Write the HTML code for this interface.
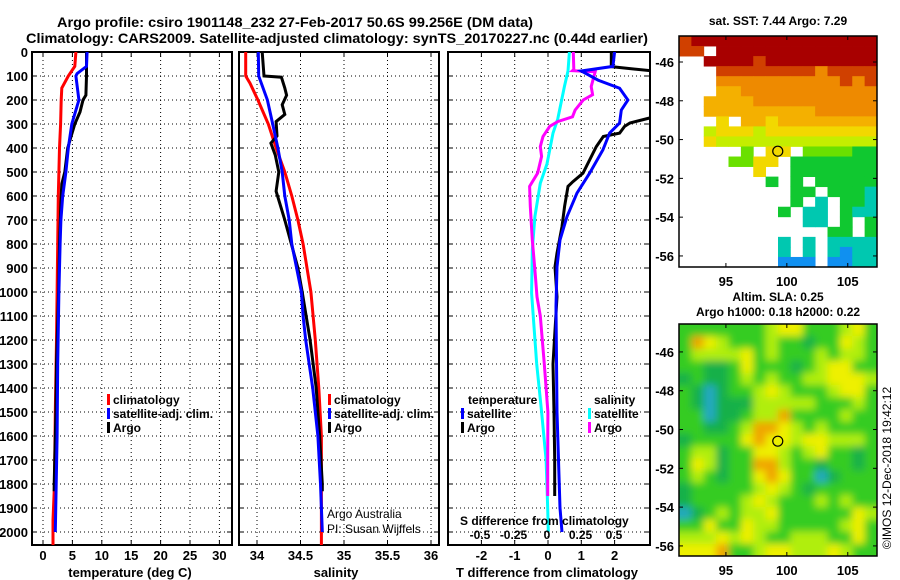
<!DOCTYPE html>
<html><head><meta charset="utf-8"><style>
html,body{margin:0;padding:0;background:#fff;}
svg{display:block;font-family:"Liberation Sans",sans-serif;}
.b{font-weight:bold;}
</style></head><body>
<svg id="chart" width="900" height="580" viewBox="0 0 900 580" xmlns="http://www.w3.org/2000/svg">
<defs>
<clipPath id="c1"><rect x="32" y="52" width="200" height="493"/></clipPath>
<clipPath id="c2"><rect x="239" y="52" width="200" height="493"/></clipPath>
<clipPath id="c3"><rect x="448" y="52" width="202" height="493"/></clipPath>
<clipPath id="cm2"><rect x="679" y="324" width="198" height="232"/></clipPath>
<filter id="blur" x="-5%" y="-5%" width="110%" height="110%"><feGaussianBlur stdDeviation="4"/></filter>
</defs>
<text class="b" x="57" y="27" font-size="14" textLength="476" lengthAdjust="spacingAndGlyphs">Argo profile: csiro 1901148_232 27-Feb-2017 50.6S 99.256E (DM data)</text>
<text class="b" x="26" y="43" font-size="14" textLength="622" lengthAdjust="spacingAndGlyphs">Climatology: CARS2009. Satellite-adjusted climatology: synTS_20170227.nc (0.44d earlier)</text>
<g id="g"></g>
</svg>
<script>
// ---- profile data (depth in m) ----
const tempClimDepth=[0,60,100,150,200,300,400,600,800,1000,1200,1500,1800,1950,2060];
const tempClim=[5.6,5.4,4.3,3.2,3.1,3.0,2.8,2.6,2.5,2.4,2.3,2.1,1.95,1.7,1.7];
const tempSatDepth=[0,60,90,100,200,300,400,500,600,700,800,1000,1300,1600,2000];
const tempSat=[7.5,7.4,5.8,5.6,6.1,4.9,4.3,3.9,3.35,3.05,2.9,2.7,2.5,2.4,2.1];
const tempArgoDepth=[0,100,180,200,250,300,350,400,500,550,600,800,1000,1300,1500,1800,1830];
const tempArgo=[7.4,7.4,7.3,6.8,6.3,5.4,4.8,4.2,3.7,3.2,3.1,2.8,2.65,2.3,2.2,1.9,1.9];

const salClimDepth=[0,100,130,200,300,400,500,600,700,800,1000,1200,1400,1600,2060];
const salClim=[33.87,33.87,33.92,34.01,34.13,34.22,34.32,34.40,34.47,34.53,34.62,34.67,34.71,34.74,34.74];
const salSatDepth=[0,100,200,300,400,500,600,700,800,1000,1100,1200,1400,1600,1800,2000];
const salSat=[34.015,34.02,34.12,34.18,34.24,34.29,34.32,34.37,34.40,34.51,34.53,34.56,34.64,34.70,34.73,34.75];
const salArgoDepth=[0,100,105,150,180,220,260,290,350,380,430,500,580,700,900,1000,1200,1400,1600,1800,1830];
const salArgo=[34.06,34.08,34.28,34.32,34.34,34.29,34.32,34.22,34.23,34.16,34.21,34.25,34.22,34.32,34.47,34.52,34.61,34.68,34.72,34.75,34.75];

const dTSatDepth=[0,60,79,117,151,200,242,296,338,408,505,588,686,783,895,1060,1500,1900,2000];
const dTSat=[2.0,1.95,1.0,1.5,2.15,2.4,2.2,2.15,1.85,1.65,1.25,0.87,0.57,0.36,0.27,0.24,0.27,0.36,0.42];
const dTArgoDepth=[0,61,78,150,250,275,296,310,338,352,394,505,540,560,643,727,838,895,1020,1300,1500,1700,1850];
const dTArgo=[1.9,1.9,3.07,3.6,3.3,3.05,2.46,2.3,2.15,1.66,1.45,1.05,0.75,0.6,0.5,0.42,0.27,0.21,0.27,0.15,0.18,0.2,0.2];
const dSSatDepth=[0,79,144,280,338,466,547,686,825,1005,1300,1500,1700,1900,2000];
const dSSat=[0.167,0.157,0.13,0.08,0.045,0,-0.05,-0.09,-0.11,-0.115,-0.077,-0.04,-0.007,0.005,0.01];
const dSArgoDepth=[0,73,78,82,144,178,200,242,270,290,310,352,394,435,505,560,643,783,908,1020,1100,1300,1500,1700,1850];
const dSArgo=[0.196,0.2,0.19,0.36,0.33,0.34,0.27,0.21,0.19,0.08,0.02,-0.03,-0.05,-0.04,-0.07,-0.13,-0.125,-0.11,-0.09,-0.075,-0.05,-0.02,0.007,0.005,0.005];

// ---- ticks ----
const depthTicks=[0,100,200,300,400,500,600,700,800,900,1000,1100,1200,1300,1400,1500,1600,1700,1800,1900,2000];
const tempTicks=[0,5,10,15,20,25,30];
const salTicks=[34,34.5,35,35.5,36];
const salTickLabels=["34","34.5","35","35.5","36"];
const dTTicks=[-2,-1,0,1,2];
const dSTicks=[-0.5,-0.25,0,0.25,0.5];
const dSTickLabels=["-0.5","-0.25","0","0.25","0.5"];
const latTicks=[-46,-48,-50,-52,-54,-56];
const lonTicks=[95,100,105];
const argoLon=99.256, argoLat=-50.6;

// ---- map grids (level codes, '.' = no data) ----
const sstRows=[
"8999999999999999","88.9999999999999","..99998999999999","...8888888878888",
"...7777777777878","...6677777777777","..66667777777777","..66666666677777",
"...5.66566666666","..45554555555555","..54444444444444",".....3.55.333322",
"....3355.2222222","......5..2222222",".......2.2.22222",".........22.2221",
".........2.1.221","........2.11.211","..........11.2.2","............22.2",
"........1.1.1111","........1.1.1011","........000.0011"];
const slaRows=[
"2222222344222342","2543222322122432","2333342322232332","2211242221234422",
"1211232322334443","2101223432223442","2101113333322232","2201123352222322",
"2211235543232222","1222245443443332","2331224432342212","2431225532212212",
"2321224542201222","1222223432122222","1222234322232322","0123233422222243",
"2242243322222342","3334343223332242","4445223443334322"];
const sstColors={"9":"#a80000","8":"#d04000","7":"#ee8a00","6":"#f4b000","5":"#f2d800","4":"#c4ee00","3":"#6ae000","2":"#10c830","1":"#00c8b0","0":"#1090f0"};
const slaColors={"0":"#20a8c0","1":"#18b048","2":"#34cc24","3":"#b0ee10","4":"#eef000","5":"#f0a400"};

// ---- scales ----
const yD=d=>52+d*0.24;
const xT=t=>43+t*5.88;
const xS=s=>257+(s-34)*87;
const xdT=t=>548+t*33.3;
const xdS=s=>547+s*134;
const ns="http://www.w3.org/2000/svg";
const G=document.getElementById('g');
function mk(tag,attrs,parent){const e=document.createElementNS(ns,tag);for(const k in attrs)e.setAttribute(k,attrs[k]);(parent||G).appendChild(e);return e;}
function txt(s,x,y,size,anchor,bold,parent){const e=mk('text',{x:x,y:y,'font-size':size,'text-anchor':anchor||'start'},parent);if(bold)e.setAttribute('font-weight','bold');e.textContent=s;return e;}

function panel(name,x0,w,clip,xTickVals,xf,labels,xtitle,xtitleX,showY){
  const g=mk('g',{});
  
  
  const grid=mk('g',{stroke:'#000','stroke-width':1,'stroke-dasharray':'1,3'},g);
  depthTicks.forEach(d=>{mk('line',{x1:x0,x2:x0+w,y1:yD(d),y2:yD(d)},grid);});
  xTickVals.forEach(v=>{mk('line',{x1:xf(v),x2:xf(v),y1:52,y2:545},grid);});
  const ax=mk('g',{stroke:'#000','stroke-width':1},g);
  depthTicks.forEach(d=>{mk('line',{x1:x0,x2:x0+5,y1:yD(d),y2:yD(d)},ax);mk('line',{x1:x0+w-5,x2:x0+w,y1:yD(d),y2:yD(d)},ax);});
  xTickVals.forEach(v=>{mk('line',{x1:xf(v),x2:xf(v),y1:545,y2:540},ax);mk('line',{x1:xf(v),x2:xf(v),y1:52,y2:57},ax);});
  const fr=mk('rect',{x:x0,y:52,width:w,height:493,fill:'none',stroke:'#000','stroke-width':2},g);
  
  
  if(labels){xTickVals.forEach((v,i)=>{const t=txt(labels[i],xf(v),560,13,'middle',true,g);});}
  if(xtitle){const t=txt(xtitle,xtitleX,577,13,'middle',true,g);}
  if(showY){depthTicks.forEach(d=>{const t=txt(String(d),28,yD(d)+5,13,'end',true,g);});}
  return g;
}
function series(name,depths,vals,xf,color,clip){
  const pts=depths.map((d,i)=>xf(vals[i]).toFixed(1)+','+yD(d).toFixed(1)).join(' ');
  const p=mk('polyline',{points:pts,fill:'none',stroke:color,'stroke-width':3,'stroke-linejoin':'miter','clip-path':'url(#'+clip+')'});
  
  
}
function legendItem(color,label,x,y,nm){
  const r=mk('rect',{x:x,y:y-10,width:3,height:11,fill:color});
  
  
  const t=txt(label,x+6,y,12,'start',true);
  
  
}

// panel 1: temperature
panel('temperature-panel',32,200,'c1',tempTicks,xT,tempTicks.map(String),'temperature (deg C)',130,true);
series('temp-climatology-line',tempClimDepth,tempClim,xT,'#f00','c1');
series('temp-argo-line',tempArgoDepth,tempArgo,xT,'#000','c1');
series('temp-satellite-line',tempSatDepth,tempSat,xT,'#00f','c1');
legendItem('#f00','climatology',107,404,'legend-climatology');
legendItem('#00f','satellite-adj. clim.',107,418,'legend-satellite-adj');
legendItem('#000','Argo',107,432,'legend-argo');

// panel 2: salinity
panel('salinity-panel',239,200,'c2',salTicks,xS,salTickLabels,'salinity',336,false);
series('sal-climatology-line',salClimDepth,salClim,xS,'#f00','c2');
series('sal-argo-line',salArgoDepth,salArgo,xS,'#000','c2');
series('sal-satellite-line',salSatDepth,salSat,xS,'#00f','c2');
legendItem('#f00','climatology',328,404,'legend2-climatology');
legendItem('#00f','satellite-adj. clim.',328,418,'legend2-satellite-adj');
legendItem('#000','Argo',328,432,'legend2-argo');
let t;
t=txt('Argo Australia',327,518,12,'start',false);
t=txt('PI: Susan Wijffels',327,533,12,'start',false);

// panel 3: differences
panel('difference-panel',448,202,'c3',dTTicks,xdT,dTTicks.map(String),'T difference from climatology',547,false);
series('dS-satellite-line',dSSatDepth,dSSat,xdS,'#0ff','c3');
series('dS-argo-line',dSArgoDepth,dSArgo,xdS,'#f0f','c3');
series('dT-argo-line',dTArgoDepth,dTArgo,xdT,'#000','c3');
series('dT-satellite-line',dTSatDepth,dTSat,xdT,'#00f','c3');
t=txt('temperature',468,404,12,'start',true);
legendItem('#00f','satellite',461,418,'legend3-t-satellite');
legendItem('#000','Argo',461,432,'legend3-t-argo');
t=txt('salinity',594,404,12,'start',true);
legendItem('#0ff','satellite',588,418,'legend3-s-satellite');
legendItem('#f0f','Argo',588,432,'legend3-s-argo');
t=txt('S difference from climatology',460,525,12,'start',true);
dSTicks.forEach((v,i)=>{const e=txt(dSTickLabels[i],xdS(v),539,12,'middle',true);});

// ---- maps ----
function map(name,y0,h,rows,colors,lat0,lat1,fillMarker,smooth){
  const x0=679,w=198,lon0=91.15,lon1=107.4;
  const xL=l=>x0+(l-lon0)/(lon1-lon0)*w;
  const yL=l=>y0+(lat0-l)/(lat0-lat1)*h;
  const g=mk('g',{});
  
  
  const outer=smooth?mk('g',{'clip-path':'url(#'+smooth+')'},g):g;
  const cells=smooth?mk('g',{filter:'url(#blur)'},outer):g;
  const nr=rows.length,nc=rows[0].length,cw=w/nc,ch=h/nr;
  const pad=smooth?8:0;
  rows.forEach((row,r)=>{for(let c=0;c<nc;c++){const k=row[c];if(k==='.')continue;
    let x=x0+c*cw,y=y0+r*ch,ww=cw+0.4,hh=ch+0.4;
    if(smooth){if(c===0){x-=pad;ww+=pad;}if(c===nc-1)ww+=pad;if(r===0){y-=pad;hh+=pad;}if(r===nr-1)hh+=pad;}
    mk('rect',{x:x.toFixed(2),y:y.toFixed(2),width:ww.toFixed(2),height:hh.toFixed(2),fill:colors[k]},cells);}});
  mk('rect',{x:x0,y:y0,width:w,height:h,fill:'none',stroke:'#000','stroke-width':1.5},g);
  latTicks.forEach(l=>{const y=yL(l);mk('line',{x1:x0,x2:x0+4,y1:y,y2:y,stroke:'#000'},g);mk('line',{x1:x0+w-4,x2:x0+w,y1:y,y2:y,stroke:'#000'},g);
    const e=txt(String(l),674,y+5,13,'end',true,g);});
  lonTicks.forEach(l=>{const x=xL(l);mk('line',{x1:x,x2:x,y1:y0,y2:y0+4,stroke:'#000'},g);mk('line',{x1:x,x2:x,y1:y0+h-4,y2:y0+h,stroke:'#000'},g);
    const e=txt(String(l),x,y0+h+19,13,'middle',true,g);});
  const m=mk('circle',{cx:xL(argoLon),cy:yL(argoLat),r:5,fill:fillMarker,stroke:'#000','stroke-width':1.2},g);
  
  
}
map('sst-map',36,231,sstRows,sstColors,-44.66,-56.57,'#f2d800',null);
map('sla-map',324,232,slaRows,slaColors,-44.56,-56.52,'none','cm2');
t=txt('sat. SST: 7.44 Argo: 7.29',778,25,12,'middle',true);
t=txt('Altim. SLA: 0.25',778,301,12,'middle',true);
t=txt('Argo h1000: 0.18 h2000: 0.22',778,316,12,'middle',true);
t=txt('©IMOS 12-Dec-2018 19:42:12',0,0,12,'middle',false);
t.setAttribute('transform','translate(891,468) rotate(-90)');


</script>
</body></html>
